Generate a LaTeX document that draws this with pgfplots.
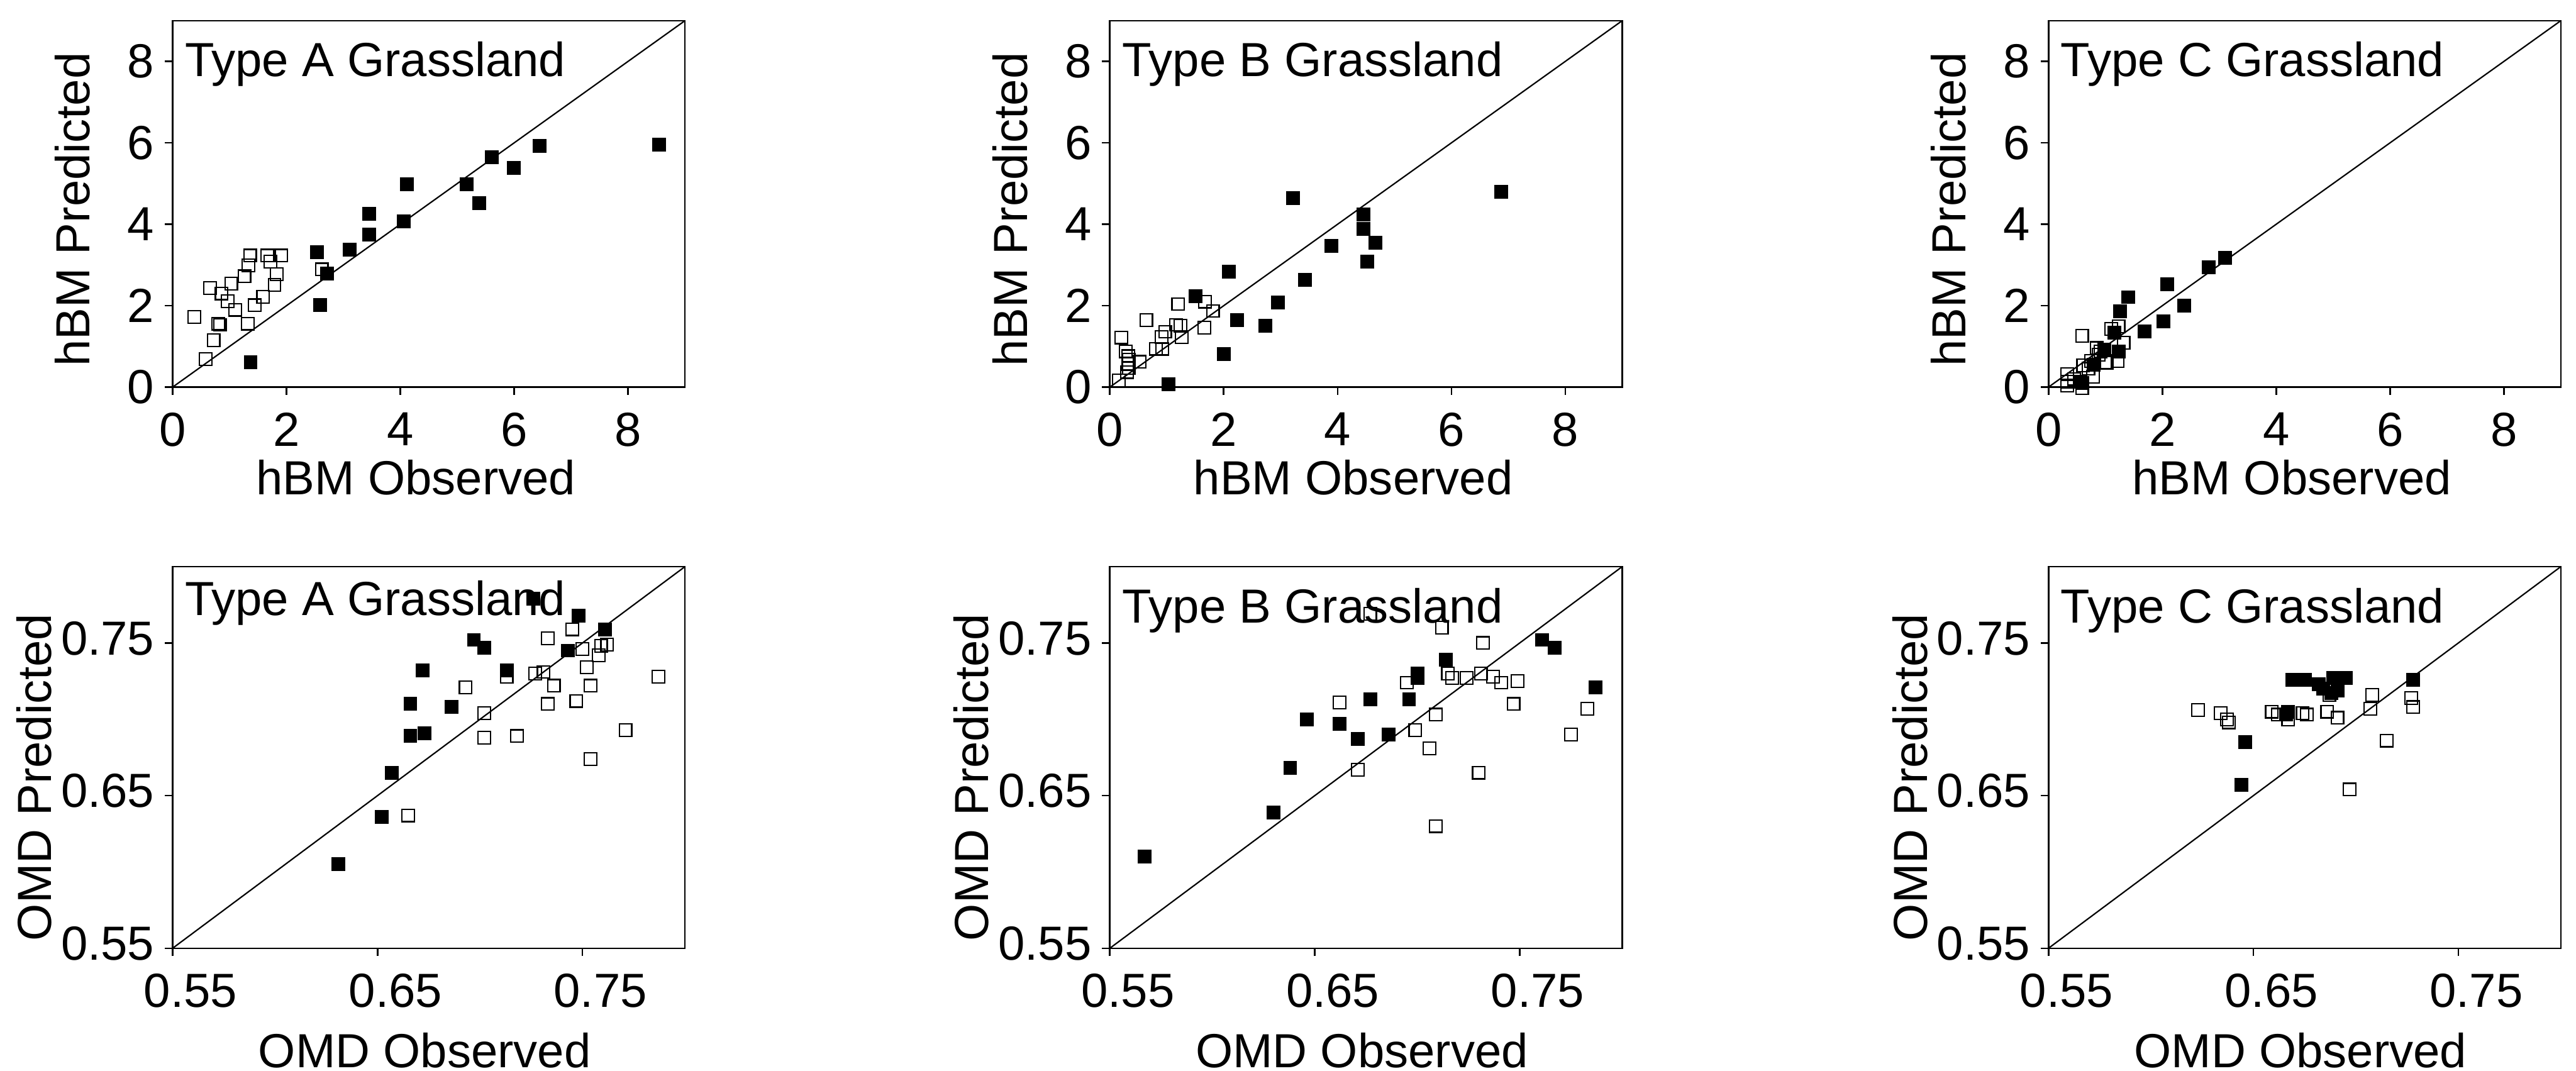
\documentclass[border=0pt]{standalone}
\usepackage{fontspec}
\setmainfont{Liberation Sans}
\usepackage{pgfplots}
\pgfplotsset{compat=1.18}
\newcommand\fs{\fontsize{10.4}{12}\selectfont}
\pgfplotsset{
 base/.style={scale only axis, width=111.3pt, anchor=south west, tick pos=left, tick align=outside,
   major tick length=1.7pt, axis line style={line width=0.35pt}, every tick/.append style={line width=0.35pt, black},
   clip=false, /pgf/number format/assume math mode=true, tick label style={font=\fs}, label style={font=\fs, inner sep=0pt},
   xticklabel style={anchor=north, inner sep=0pt, yshift=-3.7pt}, yticklabel style={anchor=east, inner sep=0pt, xshift=-2.1pt}},
 top/.style={base, height=79.6pt, xmin=0,xmax=9,ymin=0,ymax=9, xtick={0,2,4,6,8}, ytick={0,2,4,6,8},
   xlabel={hBM Observed}, ylabel={hBM Predicted},
   xlabel style={at={(axis description cs:0.475,0)}, anchor=base, yshift=-23.4pt},
   ylabel style={at={(axis description cs:-0.159,0.485)}, anchor=south}},
 bot/.style={base, height=82.9pt, xmin=0.55,xmax=0.80,ymin=0.55,ymax=0.80, xtick={0.55,0.65,0.75}, ytick={0.55,0.65,0.75},
   xticklabels={0.55,0.65,0.75}, yticklabels={0.55,0.65,0.75}, xticklabel style={xshift=3.9pt}, yticklabel style={yshift=1pt},
   xlabel={OMD Observed}, ylabel={OMD Predicted},
   xlabel style={at={(axis description cs:0.492,0)}, anchor=base, yshift=-25.9pt},
   ylabel style={at={(axis description cs:-0.234,0.448)}, anchor=south}},
 op/.style={only marks, mark=square, mark size=1.35pt, mark options={line width=0.3pt, black}},
 fi/.style={only marks, mark=square*, mark size=1.35pt, mark options={line width=0.3pt, black, fill=black}},
 dg/.style={black, line width=0.3pt, no marks},
}
\begin{document}
\begin{tikzpicture}
\path[use as bounding box] (0,0) rectangle (559.6pt,232.6pt);
% ---- P1
\begin{axis}[top, at={(37.5pt,148.5pt)}]
\addplot[dg] coordinates {(0,0) (9,9)};
\addplot[op] coordinates {(1.36,3.23) (1.66,3.23) (1.91,3.23) (1.72,3.08) (1.33,2.99) (2.62,2.89) (1.83,2.77) (1.26,2.72) (1.03,2.54) (1.79,2.51) (0.66,2.43) (0.86,2.30) (1.59,2.22) (0.97,2.11) (1.44,2.01) (1.10,1.90) (0.38,1.72) (0.80,1.56) (0.83,1.53) (1.32,1.56) (0.72,1.15) (0.58,0.69)};
\addplot[fi] coordinates {(6.45,5.92) (5.61,5.64) (5.99,5.38) (4.12,4.99) (5.17,4.98) (5.39,4.52) (3.45,4.25) (4.06,4.07) (3.45,3.74) (3.11,3.38) (2.54,3.32) (2.71,2.79) (2.59,2.02) (1.37,0.61) (8.55,5.95)};
\node[anchor=north west, inner sep=0pt, font=\fs, xshift=2.5pt, yshift=-4.3pt] at (rel axis cs:0,1) {Type A Grassland};
\end{axis}
% ---- P2
\begin{axis}[top, at={(241.1pt,148.5pt)}]
\addplot[dg] coordinates {(0,0) (9,9)};
\addplot[op] coordinates {(1.20,2.04) (1.67,2.10) (1.81,1.87) (0.64,1.65) (1.16,1.53) (1.24,1.51) (1.66,1.46) (0.97,1.36) (0.91,1.23) (1.26,1.23) (0.20,1.22) (0.81,0.94) (0.92,0.94) (0.28,0.88) (0.32,0.76) (0.33,0.67) (0.52,0.62) (0.32,0.57) (0.30,0.37) (0.16,0.16) (0.33,0.47)};
\addplot[fi] coordinates {(6.88,4.79) (3.22,4.65) (4.45,4.24) (4.46,3.89) (4.67,3.54) (3.89,3.47) (4.52,3.08) (2.09,2.83) (3.43,2.63) (1.50,2.23) (2.95,2.08) (2.23,1.65) (2.73,1.50) (2.00,0.81) (1.03,0.07)};
\node[anchor=north west, inner sep=0pt, font=\fs, xshift=2.5pt, yshift=-4.3pt] at (rel axis cs:0,1) {Type B Grassland};
\end{axis}
% ---- P3
\begin{axis}[top, at={(445.0pt,148.5pt)}]
\addplot[dg] coordinates {(0,0) (9,9)};
\addplot[op] coordinates {(0.59,1.26) (1.23,1.49) (1.10,1.43) (1.32,1.09) (0.85,0.96) (0.91,0.88) (1.21,0.64) (1.02,0.60) (0.75,0.64) (0.61,0.53) (0.78,0.25) (0.59,0.10) (0.33,0.32) (0.33,0.13) (0.33,0.04) (0.59,-0.03) (0.70,0.45) (0.45,0.20) (0.88,0.80)};
\addplot[fi] coordinates {(3.10,3.17) (2.81,2.95) (2.09,2.53) (1.40,2.21) (1.26,1.86) (2.38,2.00) (2.02,1.62) (1.16,1.34) (1.69,1.37) (0.98,0.92) (1.24,0.87) (0.79,0.55) (0.56,0.13)};
\node[anchor=north west, inner sep=0pt, font=\fs, xshift=2.5pt, yshift=-4.3pt] at (rel axis cs:0,1) {Type C Grassland};
\end{axis}
% ---- P4
\begin{axis}[bot, at={(37.5pt,26.6pt)}]
\addplot[dg] coordinates {(0.55,0.55) (0.80,0.80)};
\addplot[op] coordinates {(0.745,0.759) (0.733,0.753) (0.750,0.746) (0.759,0.748) (0.762,0.749) (0.758,0.742) (0.752,0.734) (0.727,0.730) (0.731,0.731) (0.713,0.728) (0.736,0.722) (0.754,0.722) (0.693,0.721) (0.747,0.712) (0.733,0.710) (0.702,0.704) (0.702,0.688) (0.718,0.689) (0.771,0.693) (0.754,0.674) (0.665,0.637) (0.787,0.728)};
\addplot[fi] coordinates {(0.726,0.779) (0.748,0.768) (0.761,0.759) (0.697,0.752) (0.702,0.747) (0.743,0.745) (0.672,0.732) (0.713,0.732) (0.666,0.710) (0.686,0.708) (0.666,0.689) (0.673,0.691) (0.657,0.665) (0.652,0.636) (0.631,0.605)};
\node[anchor=north west, inner sep=0pt, font=\fs, xshift=2.5pt, yshift=-2.8pt] at (rel axis cs:0,1) {Type A Grassland};
\end{axis}
% ---- P5
\begin{axis}[bot, at={(241.1pt,26.6pt)}]
\addplot[dg] coordinates {(0.55,0.55) (0.80,0.80)};
\addplot[op] coordinates {(0.677,0.769) (0.712,0.760) (0.732,0.750) (0.715,0.730) (0.717,0.727) (0.724,0.727) (0.731,0.730) (0.737,0.728) (0.741,0.724) (0.749,0.725) (0.695,0.724) (0.662,0.711) (0.747,0.710) (0.709,0.703) (0.699,0.693) (0.706,0.681) (0.671,0.667) (0.730,0.665) (0.709,0.630) (0.775,0.690) (0.783,0.707)};
\addplot[fi] coordinates {(0.761,0.752) (0.767,0.747) (0.714,0.739) (0.700,0.730) (0.700,0.727) (0.677,0.713) (0.696,0.713) (0.646,0.700) (0.662,0.697) (0.671,0.687) (0.686,0.690) (0.638,0.668) (0.630,0.639) (0.567,0.610) (0.787,0.721)};
\node[anchor=north west, inner sep=0pt, font=\fs, xshift=2.5pt, yshift=-4.5pt] at (rel axis cs:0,1) {Type B Grassland};
\end{axis}
% ---- P6
\begin{axis}[bot, at={(445.0pt,26.6pt)}]
\addplot[dg] coordinates {(0.55,0.55) (0.80,0.80)};
\addplot[op] coordinates {(0.623,0.706) (0.634,0.704) (0.637,0.700) (0.638,0.698) (0.659,0.705) (0.662,0.703) (0.667,0.700) (0.674,0.704) (0.676,0.703) (0.686,0.705) (0.691,0.701) (0.687,0.716) (0.708,0.716) (0.707,0.707) (0.715,0.686) (0.727,0.714) (0.728,0.708) (0.697,0.654)};
\addplot[fi] coordinates {(0.669,0.726) (0.675,0.726) (0.682,0.723) (0.689,0.727) (0.695,0.727) (0.691,0.719) (0.684,0.720) (0.688,0.717) (0.728,0.726) (0.646,0.685) (0.644,0.657) (0.667,0.705) (0.666,0.703)};
\node[anchor=north west, inner sep=0pt, font=\fs, xshift=2.5pt, yshift=-4.5pt] at (rel axis cs:0,1) {Type C Grassland};
\end{axis}
\end{tikzpicture}
\end{document}
